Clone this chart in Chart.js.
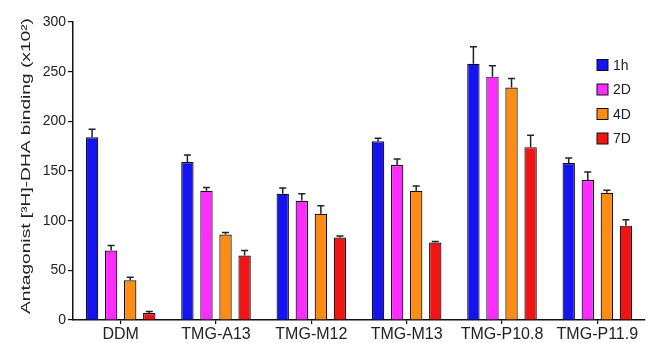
<!DOCTYPE html>
<html>
<head>
<meta charset="utf-8">
<script src="https://cdn.jsdelivr.net/npm/chart.js@4"></script>
<style>
  html, body { margin: 0; padding: 0; background: #fff; }
</style>
</head>
<body>
<canvas id="bindingChart" width="651" height="343"></canvas>
<script>
    // data
    const categories = ['DDM', 'TMG-A13', 'TMG-M12', 'TMG-M13', 'TMG-P10.8', 'TMG-P11.9'];
    const seriesNames = ['1h', '2D', '4D', '7D'];
    const val1h = [184, 159, 127, 180, 258, 158];
    const err1h = [8, 7, 6, 3, 17, 5];
    const val2D = [70, 130, 120, 156, 245, 141];
    const err2D = [5, 3.5, 7, 6, 11, 8];
    const val4D = [40, 86, 107, 130, 234, 128];
    const err4D = [3, 2, 8, 5, 9, 2.5];
    const val7D = [7, 65, 83, 78, 174, 95];
    const err7D = [1.5, 5, 1.5, 1, 12, 6];
    const yTicks = [0, 50, 100, 150, 200, 250, 300];
    const yTitle = 'Antagonist [³H]-DHA binding (x10²)';

    const colors = ['#1414f0', '#ff2cff', '#ff8c14', '#f01414'];
    const values = [val1h, val2D, val4D, val7D];
    const errors = [err1h, err2D, err4D, err7D];

    const datasets = seriesNames.map((name, i) => ({
        label: name,
        data: values[i],
        errs: errors[i],
        backgroundColor: colors[i],
        borderColor: '#111',
        borderWidth: 1.2,
        barPercentage: 0.65,
        categoryPercentage: 0.8
    }));

    // upper error bars only
    const errorBars = {
        id: 'errorBars',
        afterDatasetsDraw(chart) {
            const ctx = chart.ctx;
            const y = chart.scales.y;
            ctx.save();
            ctx.strokeStyle = '#222';
            ctx.lineWidth = 1.5;
            chart.data.datasets.forEach((ds, i) => {
                chart.getDatasetMeta(i).data.forEach((bar, j) => {
                    const top = y.getPixelForValue(ds.data[j] + ds.errs[j]);
                    ctx.beginPath();
                    ctx.moveTo(bar.x, bar.y);
                    ctx.lineTo(bar.x, top);
                    ctx.moveTo(bar.x - 3.5, top);
                    ctx.lineTo(bar.x + 3.5, top);
                    ctx.stroke();
                });
            });
            ctx.restore();
        }
    };

    // legend inside the plot, top right
    const insideLegend = {
        id: 'insideLegend',
        afterDraw(chart) {
            const ctx = chart.ctx;
            ctx.save();
            ctx.font = '14px "Liberation Sans", Arial, sans-serif';
            ctx.textBaseline = 'middle';
            chart.data.datasets.forEach((ds, i) => {
                const cy = 65 + i * 24.5;
                ctx.fillStyle = ds.backgroundColor;
                ctx.fillRect(597, cy - 5.5, 11, 11);
                ctx.strokeStyle = '#111';
                ctx.lineWidth = 1;
                ctx.strokeRect(597, cy - 5.5, 11, 11);
                ctx.fillStyle = '#222';
                ctx.fillText(ds.label, 613, cy + 1);
            });
            ctx.restore();
        }
    };

    // y axis title, stretched along its length like the original
    const yAxisTitle = {
        id: 'yAxisTitle',
        afterDraw(chart) {
            const ctx = chart.ctx;
            ctx.save();
            ctx.font = '13px "Liberation Sans", Arial, sans-serif';
            ctx.fillStyle = '#222';
            ctx.textAlign = 'center';
            ctx.textBaseline = 'middle';
            const w = ctx.measureText(yTitle).width;
            ctx.translate(26, 166);
            ctx.rotate(-Math.PI / 2);
            ctx.scale(296 / w, 1);
            ctx.fillText(yTitle, 0, 0);
            ctx.restore();
        }
    };

    const ctx = document.getElementById('bindingChart').getContext('2d');
    new Chart(ctx, {
        type: 'bar',
        data: { labels: categories, datasets: datasets },
        plugins: [errorBars, insideLegend, yAxisTitle],
        options: {
            responsive: false,
            animation: false,
            layout: { padding: { top: 22, right: 6, left: 0, bottom: 0 } },
            plugins: { legend: { display: false }, tooltip: { enabled: false } },
            scales: {
                x: {
                    grid: { display: true, drawOnChartArea: false, offset: false, tickLength: 4, color: '#111', lineWidth: 1.2 },
                    border: { display: true, color: '#111', width: 1.5 },
                    ticks: { color: '#222', font: { size: 16, family: '"Liberation Sans", Arial, sans-serif' }, padding: 1, maxRotation: 0, autoSkip: false },
                    afterFit(scale) { scale.height = 23; }
                },
                y: {
                    min: 0,
                    max: 300,
                    afterBuildTicks(scale) { scale.ticks = yTicks.map(v => ({ value: v })); },
                    grid: { display: true, drawOnChartArea: false, tickLength: 5, color: '#111', lineWidth: 1.2 },
                    border: { display: true, color: '#111', width: 1.5 },
                    ticks: { color: '#222', font: { size: 14, family: '"Liberation Sans", Arial, sans-serif' }, padding: 2 },
                    afterFit(scale) { scale.width = 73; }
                }
            }
        }
    });
</script>
</body>
</html>
